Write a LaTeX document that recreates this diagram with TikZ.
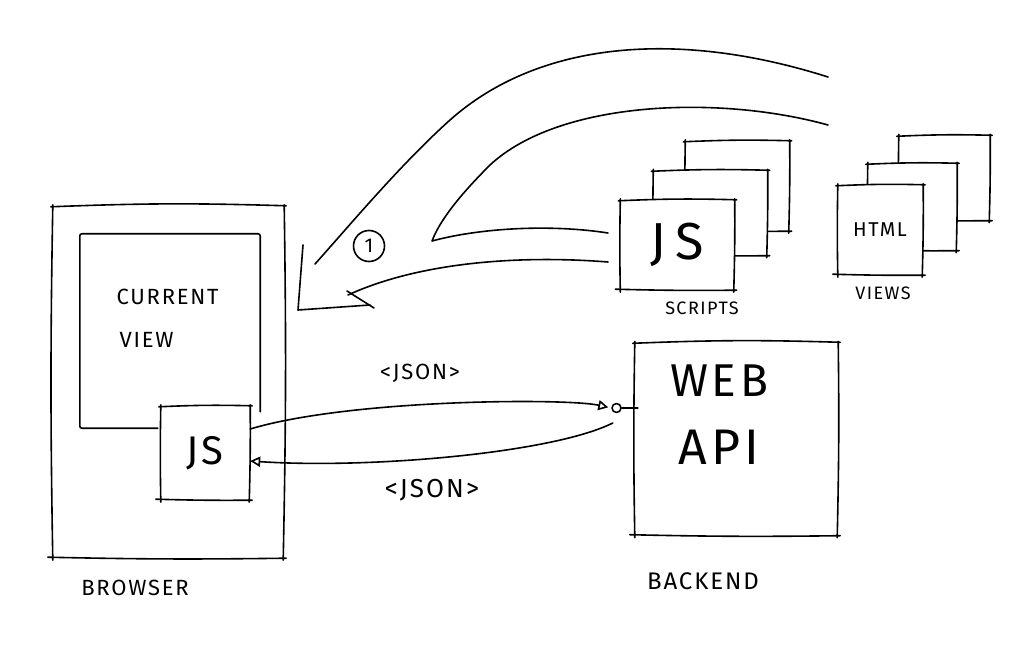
\documentclass[tikz,border=0pt]{standalone}
\usepackage{fontspec}
\newfontfamily\handfont[LetterSpace=8]{Fira Sans}
\usetikzlibrary{arrows.meta, positioning, calc}

\newcommand{\handbox}[1]{%
  \draw[ink] ([shift={(-1,1)}]#1.north west) to[bend left=2] ([shift={(2,0)}]#1.north east);
  \draw[ink] ([shift={(0,-1)}]#1.north east) to[bend left=1] ([shift={(-1,2)}]#1.south east);
  \draw[ink] ([shift={(2,0)}]#1.south east) to[bend left=1] ([shift={(-4,-1)}]#1.south west);
  \draw[ink] ([shift={(1,2)}]#1.south west) to[bend left=1] ([shift={(1,-1)}]#1.north west);
}

\begin{document}
\begin{tikzpicture}[
  x=1pt, y=-1pt,
  every node/.style={align=center},
  ink/.style={line width=1.6pt, line cap=round, line join=round},
  hand/.style={font=\handfont\fontsize{#1}{#1}\selectfont},
  sheet/.style={fill=white, inner sep=0pt},
  flow/.style={ink, -{Triangle[open, length=10pt, width=10pt]}},
  ball/.style={ink, draw, circle, minimum size=9pt, inner sep=0pt}
]
  \useasboundingbox[fill=white] (0,0) rectangle (1024,668);

  \node[sheet, minimum width=232pt, minimum height=352pt] (browser) at (168,382) {};
  \handbox{browser}
  \node[minimum width=180pt, minimum height=194pt, inner sep=0pt] (view) at (170,331) {};
  \node[sheet, minimum width=90pt, minimum height=94pt, hand=40] (jsbox) at (205,453) {JS};
  \draw[ink, rounded corners=2pt] ([xshift=-2pt]jsbox.west |- view.south) -- (view.south west)
    -- (view.north west) -- (view.north east) -- ([yshift=-6pt]view.east |- jsbox.north);
  \handbox{jsbox}
  \node[hand=22, anchor=west] (current) at (113,297) {CURRENT};
  \node[hand=22, anchor=west] (viewtxt) at (116,340) {VIEW};
  \node[hand=22] (browsertxt) at (135,588) {BROWSER};

  \node[sheet, minimum width=105pt, minimum height=90pt] (js1) at (737,186) {};
  \handbox{js1}
  \node[sheet, minimum width=115pt, minimum height=85pt] (js2) at (710,213) {};
  \handbox{js2}
  \node[sheet, minimum width=115pt, minimum height=90pt, hand=52] (js3) at (677,245) {J\,S};
  \handbox{js3}
  \node[hand=18] (scripts) at (702,308) {SCRIPTS};

  \node[sheet, minimum width=92pt, minimum height=85pt] (v1) at (944,178) {};
  \handbox{v1}
  \node[sheet, minimum width=90pt, minimum height=87pt] (v2) at (912,207) {};
  \handbox{v2}
  \node[sheet, minimum width=86pt, minimum height=90pt, hand=20] (v3) at (880,230) {HTML};
  \handbox{v3}
  \node[hand=18] (views) at (883,293) {VIEWS};

  \node[sheet, minimum width=204pt, minimum height=193pt] (webapi) at (736,439) {};
  \handbox{webapi}
  \node[hand=46] (web) at (719,381) {WEB};
  \node[hand=50] (api) at (719,447) {API};
  \node[hand=24] (backend) at (703,581) {BACKEND};

  \draw[ink] (828,77) .. controls (680,30) and (540,40) .. (450,120)
    .. controls (400,165) and (350,225) .. (315,264);
  \draw[ink] (303,245) -- (298,310) -- (370,305);
  \draw[ink] (828,125) .. controls (720,95) and (560,100) .. (490,165)
    .. controls (460,195) and (440,220) .. (432,241)
    .. controls (480,228) and (550,224) .. (608,233);
  \draw[ink] (608,262) .. controls (520,255) and (420,262) .. (348,295);
  \draw[ink] (347,291) -- (374,308);
  \node[ink, draw, circle, minimum size=31pt, inner sep=0pt, hand=20] (one) at (369,246) {1};

  \node[ball, left=12pt of webapi.west, yshift=31pt] (sock) {};
  \draw[ink] (sock.east) -- ([xshift=4pt]sock -| webapi.west);
  \draw[flow, shorten >=3pt] ([yshift=24pt]jsbox.east) .. controls +(100,-30) and +(-45,-10) .. (sock.west);
  \draw[flow] ([shift={(-21,-16)}]webapi.west) .. controls +(-60,30) and +(120,8) .. ([yshift=-8pt]jsbox.east);
  \node[hand=22] (jsonreq) at (420,373) {<JSON>};
  \node[hand=26] (jsonres) at (432,490) {<JSON>};
\end{tikzpicture}
\end{document}
